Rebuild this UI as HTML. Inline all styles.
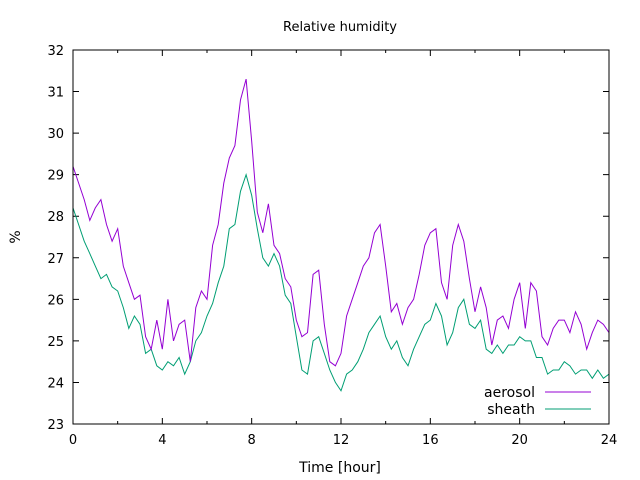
<!DOCTYPE html>
<html><head><meta charset="utf-8"><style>
body{margin:0;background:#fff;}
svg{display:block;font-family:"DejaVu Sans","Liberation Sans",sans-serif;}
</style></head><body>
<svg id="chart" width="640" height="480" viewBox="0 0 640 480" xmlns="http://www.w3.org/2000/svg">
<text x="340" y="31" text-anchor="middle" font-size="13">Relative humidity</text>
<text x="340" y="472" text-anchor="middle" font-size="14">Time [hour]</text>
<text x="20" y="237" text-anchor="middle" font-size="14" transform="rotate(-90 20 237)">%</text>
<g id="ticks"></g>
<g id="series"></g>
<rect x="73" y="50" width="536" height="374" fill="none" stroke="#000" stroke-width="1"/>
<g font-size="14">
<text x="535" y="397" text-anchor="end">aerosol</text>
<line x1="545" y1="392" x2="591" y2="392" stroke="#9400d3" stroke-width="1"/>
<text x="535" y="414" text-anchor="end">sheath</text>
<line x1="545" y1="409" x2="591" y2="409" stroke="#009e73" stroke-width="1"/>
</g>
</svg>
<script>
const xTicks=[0,4,8,12,16,20,24];
const yTicks=[23,24,25,26,27,28,29,30,31,32];
const times=[];for(let i=0;i<=96;i++)times.push(i*0.25);
const aerosol=[29.2,28.8,28.4,27.9,28.2,28.4,27.8,27.4,27.7,26.8,26.4,26.0,26.1,25.1,24.8,25.5,24.8,26.0,25.0,25.4,25.5,24.5,25.8,26.2,26.0,27.3,27.8,28.8,29.4,29.7,30.8,31.3,29.8,28.1,27.6,28.3,27.3,27.1,26.5,26.3,25.5,25.1,25.2,26.6,26.7,25.4,24.5,24.4,24.7,25.6,26.0,26.4,26.8,27.0,27.6,27.8,26.8,25.7,25.9,25.4,25.8,26.0,26.6,27.3,27.6,27.7,26.4,26.0,27.3,27.8,27.4,26.5,25.7,26.3,25.8,24.9,25.5,25.6,25.3,26.0,26.4,25.3,26.4,26.2,25.1,24.9,25.3,25.5,25.5,25.2,25.7,25.4,24.8,25.2,25.5,25.4,25.2];
const sheath=[28.2,27.8,27.4,27.1,26.8,26.5,26.6,26.3,26.2,25.8,25.3,25.6,25.4,24.7,24.8,24.4,24.3,24.5,24.4,24.6,24.2,24.5,25.0,25.2,25.6,25.9,26.4,26.8,27.7,27.8,28.6,29.0,28.5,27.7,27.0,26.8,27.1,26.8,26.1,25.9,25.1,24.3,24.2,25.0,25.1,24.7,24.3,24.0,23.8,24.2,24.3,24.5,24.8,25.2,25.4,25.6,25.1,24.8,25.0,24.6,24.4,24.8,25.1,25.4,25.5,25.9,25.6,24.9,25.2,25.8,26.0,25.4,25.3,25.5,24.8,24.7,24.9,24.7,24.9,24.9,25.1,25.0,25.0,24.6,24.6,24.2,24.3,24.3,24.5,24.4,24.2,24.3,24.3,24.1,24.3,24.1,24.2];
const X0=73,X1=609,Y0=424,Y1=50;
const xs=t=>X0+(t-0)/24*(X1-X0);
const ys=v=>Y0-(v-23)/9*(Y0-Y1);
const NS="http://www.w3.org/2000/svg";
const tg=document.getElementById('ticks');
function mk(tag,attrs,parent){const e=document.createElementNS(NS,tag);for(const k in attrs)e.setAttribute(k,attrs[k]);parent.appendChild(e);return e;}
xTicks.forEach(t=>{const x=xs(t);
const l=mk('path',{d:`M${x},${Y0}v-6M${x},${Y1}v6`,stroke:'#000','stroke-width':1},tg);


const tx=mk('text',{x:x,y:Y0+20,'text-anchor':'middle','font-size':13},tg);tx.textContent=t;


});
for(let t=2;t<24;t+=4){const x=xs(t);
const l=mk('path',{d:`M${x},${Y0}v-3M${x},${Y1}v3`,stroke:'#000','stroke-width':1},tg);

}
yTicks.forEach(v=>{const y=ys(v);
const l=mk('path',{d:`M${X0},${y}h6M${X1},${y}h-6`,stroke:'#000','stroke-width':1},tg);


const tx=mk('text',{x:X0-9,y:y+5,'text-anchor':'end','font-size':13},tg);tx.textContent=v;


});
const sg=document.getElementById('series');
function line(data,color,name){const pts=data.map((v,i)=>xs(times[i]).toFixed(1)+','+ys(v).toFixed(1)).join(' ');
const p=mk('polyline',{points:pts,fill:'none',stroke:color,'stroke-width':1},sg);

}
line(sheath,'#009e73','sheath-line');
line(aerosol,'#9400d3','aerosol-line');
</script>
</body></html>
